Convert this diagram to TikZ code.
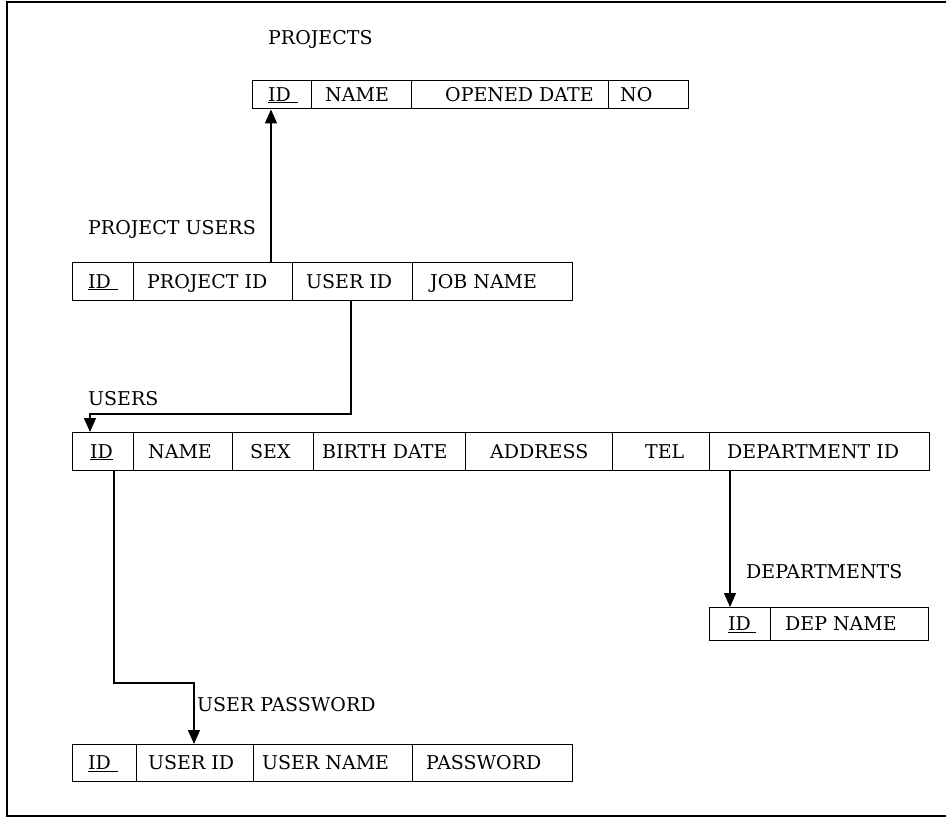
\documentclass[tikz,border=0pt]{standalone}
\usepackage{fontspec}
\setmainfont{DejaVu Serif}
\usetikzlibrary{arrows.meta}
\tikzset{
  cellbox/.style={draw=black, line width=1.4pt, inner sep=0pt, anchor=north west},
  celltext/.style={anchor=base west, inner sep=0pt, font=\fontsize{19}{22}\selectfont},
  tlabel/.style={anchor=base west, inner sep=0pt, font=\fontsize{19}{22}\selectfont},
  link/.style={draw=black, line width=1.3pt},
  arr/.style={link, -{Triangle[width=12pt,length=14pt]}},
  frame/.style={draw=black, line width=1.5pt}
}
\newcommand\dbcell[7]{%
  \node[cellbox, minimum width={#3-#2}, minimum height={#6-#5}] (#1) at (#2,#5) {};
  \node[celltext] (#1t) at (#4,{(#5+#6)/2+7}) {#7};
}
\begin{document}
\begin{tikzpicture}[x=1pt,y=-1pt]
\useasboundingbox (0,0) rectangle (946,820);
\draw[frame] (946,2) -- (7,2) -- (7,816) -- (946,816);

% PROJECTS
\node[tlabel] (lproj) at (268,44) {PROJECTS};
\dbcell{pj1}{252}{311}{268}{80}{108}{\underline{ID\hspace{7pt}}}
\dbcell{pj2}{311}{411}{325}{80}{108}{NAME}
\dbcell{pj3}{411}{608}{445}{80}{108}{OPENED DATE}
\dbcell{pj4}{608}{688}{620}{80}{108}{NO}

% PROJECT USERS
\node[tlabel] (lpu) at (88,234) {PROJECT USERS};
\dbcell{pu1}{72}{133}{88}{262}{300}{\underline{ID\hspace{7pt}}}
\dbcell{pu2}{133}{292}{147}{262}{300}{PROJECT ID}
\dbcell{pu3}{292}{412}{306}{262}{300}{USER ID}
\dbcell{pu4}{412}{572}{430}{262}{300}{JOB NAME}

% USERS
\node[tlabel] (lus) at (88,405) {USERS};
\dbcell{us1}{72}{133}{90}{432}{470}{\underline{ID}}
\dbcell{us2}{133}{232}{148}{432}{470}{NAME}
\dbcell{us3}{232}{313}{250}{432}{470}{SEX}
\dbcell{us4}{313}{465}{322}{432}{470}{BIRTH DATE}
\dbcell{us5}{465}{612}{490}{432}{470}{ADDRESS}
\dbcell{us6}{612}{709}{645}{432}{470}{TEL}
\dbcell{us7}{709}{929}{727}{432}{470}{DEPARTMENT ID}

% DEPARTMENTS
\node[tlabel] (ldp) at (746,578) {DEPARTMENTS};
\dbcell{dp1}{709}{770}{728}{607}{640}{\underline{ID\hspace{5pt}}}
\dbcell{dp2}{770}{928}{785}{607}{640}{DEP NAME}

% USER PASSWORD
\node[tlabel] (lup) at (197,711) {USER PASSWORD};
\dbcell{up1}{72}{136}{88}{744}{781}{\underline{ID\hspace{7pt}}}
\dbcell{up2}{136}{253}{148}{744}{781}{USER ID}
\dbcell{up3}{253}{412}{262}{744}{781}{USER NAME}
\dbcell{up4}{412}{572}{426}{744}{781}{PASSWORD}

% connectors
\coordinate (xa) at (271,0);
\draw[arr] (xa |- pu2.north) -- (xa |- pj1.south);

\coordinate (xb) at (351,0);
\coordinate (xc) at (90,0);
\coordinate (yb) at (0,414);
\draw[arr] (xb |- pu3.south) -- (xb |- yb) -- (xc |- yb) -- (xc |- us1.north);

\coordinate (xd) at (730,0);
\draw[arr] (xd |- us7.south) -- (xd |- dp1.north);

\coordinate (xe) at (114,0);
\coordinate (xf) at (194,0);
\coordinate (ye) at (0,683);
\draw[arr] (xe |- us1.south) -- (xe |- ye) -- (xf |- ye) -- (xf |- up2.north);
\end{tikzpicture}
\end{document}
